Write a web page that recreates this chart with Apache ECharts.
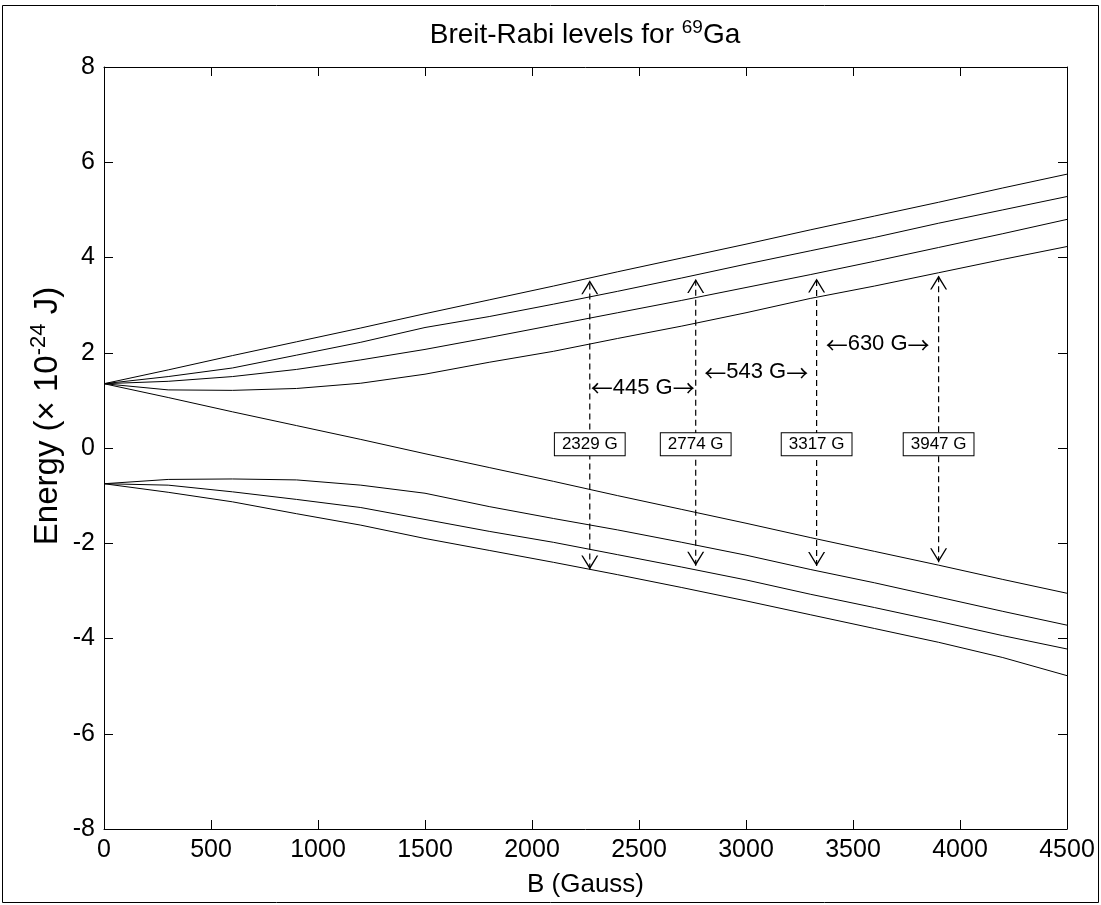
<!DOCTYPE html>
<html><head><meta charset="utf-8">
<script src="https://cdn.jsdelivr.net/npm/echarts@6.0.0/dist/echarts.min.js"></script>
<style>html,body{margin:0;padding:0;background:#fff}#c{width:1101px;height:905px}</style>
</head><body><div id="c"></div>
<script>
// Magnetic field samples (Gauss)
const fieldB = [0,300,600,900,1200,1500,1800,2100,2400,2700,3000,3300,3600,3900,4200,4500];
// Energy levels (x 1e-24 J), upper hyperfine group (F=2)
const levelUp1 = [1.35,1.64,1.94,2.23,2.52,2.82,3.11,3.40,3.70,3.99,4.28,4.58,4.87,5.16,5.46,5.75];
const levelUp2 = [1.35,1.50,1.68,1.95,2.22,2.53,2.76,3.02,3.29,3.57,3.86,4.14,4.42,4.72,5.00,5.28];
const levelUp3 = [1.35,1.40,1.50,1.65,1.85,2.07,2.32,2.58,2.84,3.10,3.37,3.64,3.92,4.21,4.50,4.80];
const levelUp4 = [1.35,1.22,1.21,1.25,1.36,1.55,1.80,2.03,2.30,2.56,2.84,3.14,3.40,3.68,3.96,4.23];
const levelUp5 = [1.35,1.06,0.76,0.47,0.18,-0.12,-0.41,-0.70,-1.00,-1.29,-1.58,-1.88,-2.17,-2.46,-2.76,-3.05];
// lower hyperfine group (F=1)
const levelLo1 = [-0.75,-0.66,-0.65,-0.67,-0.78,-0.95,-1.23,-1.48,-1.72,-1.98,-2.25,-2.55,-2.83,-3.13,-3.43,-3.72];
const levelLo2 = [-0.75,-0.78,-0.92,-1.08,-1.25,-1.50,-1.75,-1.98,-2.24,-2.50,-2.77,-3.07,-3.35,-3.64,-3.94,-4.22];
const levelLo3 = [-0.75,-0.93,-1.13,-1.38,-1.62,-1.90,-2.15,-2.40,-2.66,-2.93,-3.21,-3.50,-3.79,-4.08,-4.40,-4.78];
const allLevels = [levelUp1,levelUp2,levelUp3,levelUp4,levelUp5,levelLo1,levelLo2,levelLo3];

// Transition annotations
const arrowB = [2270, 2765, 3330, 3900];
const arrowTop = [3.52, 3.55, 3.56, 3.62];
const arrowBottom = [-2.55, -2.47, -2.48, -2.40];
const boxLabels = ['2329 G', '2774 G', '3317 G', '3947 G'];
const boxY = [0.08, 0.08, 0.08, 0.08];
const gapLabels = ['445 G', '543 G', '630 G'];
const gapY = [1.27, 1.59, 2.18];

const FONT = 'Liberation Sans, Arial, Helvetica, sans-serif';
const ARROWFONT = 'Noto Sans CJK SC, DejaVu Sans, sans-serif';
const upHead = 'path://M0,14 L8.5,0 L17,14 L15.5,14 L8.5,2.6 L1.5,14 Z';
const downHead = 'path://M0,0 L8.5,14 L17,0 L15.5,0 L8.5,11.4 L1.5,0 Z';
const HIDDEN = 'rgba(0,0,0,0)';

const series = [];
allLevels.forEach((lv, k) => {
  series.push({
    type: 'line', name: 'level' + k, data: fieldB.map((b, i) => [b, lv[i]]),
    symbol: 'none', silent: true, z: 3,
    lineStyle: { color: '#000', width: 1 }
  });
});
arrowB.forEach((b, i) => {
  series.push({
    type: 'line', data: [[b, arrowBottom[i]], [b, arrowTop[i]]],
    symbol: 'none', silent: true, z: 4,
    lineStyle: { color: '#000', width: 1.2, type: [6, 4] }
  });
});
series.push({
  type: 'scatter', data: arrowB.map((b, i) => [b, arrowTop[i]]),
  symbol: upHead, symbolSize: [17, 14], symbolOffset: [0, '50%'], silent: true, z: 5,
  itemStyle: { color: '#000', opacity: 1 }
});
series.push({
  type: 'scatter', data: arrowB.map((b, i) => [b, arrowBottom[i]]),
  symbol: downHead, symbolSize: [17, 14], symbolOffset: [0, '-50%'], silent: true, z: 5,
  itemStyle: { color: '#000', opacity: 1 }
});
series.push({
  type: 'scatter', data: arrowB.map((b, i) => [b, boxY[i]]),
  symbolSize: 2, itemStyle: { color: HIDDEN, opacity: 1 }, silent: true, z: 10,
  label: {
    show: true, position: 'inside', formatter: p => boxLabels[p.dataIndex],
    color: '#000', fontSize: 17, fontFamily: FONT,
    backgroundColor: '#fff', borderColor: '#000', borderWidth: 1, padding: [3, 7, 2, 7]
  }
});
series.push({
  type: 'scatter', data: gapLabels.map((t, i) => [(arrowB[i] + arrowB[i + 1]) / 2, gapY[i]]),
  symbolSize: 2, itemStyle: { color: HIDDEN, opacity: 1 }, silent: true, z: 10,
  label: {
    show: true, position: 'inside',
    formatter: p => '{a|\u2190}{t|' + gapLabels[p.dataIndex] + '}{a|\u2192}',
    color: '#000', fontSize: 22, fontFamily: FONT,
    rich: {
      a: { fontSize: 22, fontFamily: ARROWFONT, color: '#000' },
      t: { fontSize: 22, fontFamily: FONT, color: '#000' }
    }
  }
});

const axisCommonX = { type: 'value', min: 0, max: 4500, interval: 500 };
const axisCommonY = { type: 'value', min: -8, max: 8, interval: 2 };
const lineStyleBlack = { color: '#000', width: 1 };
const plainNum = v => String(v);

const option = {
  backgroundColor: '#fff',
  animation: false,
  grid: { left: 104, right: 34, top: 67, bottom: 76, containLabel: false },
  xAxis: [
    Object.assign({}, axisCommonX, {
      position: 'bottom',
      axisLine: { show: true, onZero: false, lineStyle: lineStyleBlack },
      axisTick: { show: true, inside: true, length: 9, lineStyle: lineStyleBlack },
      axisLabel: { color: '#000', fontSize: 25, fontFamily: FONT, margin: 9, formatter: plainNum },
      splitLine: { show: false },
      name: 'B (Gauss)', nameLocation: 'middle', nameGap: 43,
      nameTextStyle: { color: '#000', fontSize: 26, fontFamily: FONT }
    }),
    Object.assign({}, axisCommonX, {
      position: 'top',
      axisLine: { show: true, onZero: false, lineStyle: lineStyleBlack },
      axisTick: { show: true, inside: true, length: 9, lineStyle: lineStyleBlack },
      axisLabel: { show: false }, splitLine: { show: false }
    })
  ],
  yAxis: [
    Object.assign({}, axisCommonY, {
      position: 'left',
      axisLine: { show: true, onZero: false, lineStyle: lineStyleBlack },
      axisTick: { show: true, inside: true, length: 9, lineStyle: lineStyleBlack },
      axisLabel: { color: '#000', fontSize: 25, fontFamily: FONT, margin: 9, formatter: plainNum },
      splitLine: { show: false }
    }),
    Object.assign({}, axisCommonY, {
      position: 'right',
      axisLine: { show: true, onZero: false, lineStyle: lineStyleBlack },
      axisTick: { show: true, inside: true, length: 9, lineStyle: lineStyleBlack },
      axisLabel: { show: false }, splitLine: { show: false }
    })
  ],
  graphic: [
    {
      type: 'rect', silent: true, z: 0,
      shape: { x: 2.5, y: 5.5, width: 1096, height: 897 },
      style: { fill: 'none', stroke: '#000', lineWidth: 1 }
    },
    {
      type: 'text', silent: true, x: 585, y: 34,
      style: {
        text: '{n|Breit-Rabi levels for }{sup|69}{n|Ga}',
        textAlign: 'center', textVerticalAlign: 'middle', fill: '#000',
        fontSize: 28, fontFamily: FONT,
        rich: {
          n: { fontSize: 28, fontFamily: FONT, fill: '#000', verticalAlign: 'bottom' },
          sup: { fontSize: 19, fontFamily: FONT, fill: '#000', verticalAlign: 'bottom', padding: [0, 0, 12, 0] }
        }
      }
    },
    {
      type: 'text', silent: true, x: 46, y: 416, rotation: Math.PI / 2,
      style: {
        text: '{n|Energy (\u00d7 10}{sup|-24}{n| J)}',
        textAlign: 'center', textVerticalAlign: 'middle', fill: '#000',
        fontSize: 33, fontFamily: FONT,
        rich: {
          n: { fontSize: 33, fontFamily: FONT, fill: '#000', verticalAlign: 'bottom' },
          sup: { fontSize: 22, fontFamily: FONT, fill: '#000', verticalAlign: 'bottom', padding: [0, 0, 14, 0] }
        }
      }
    }
  ],
  series: series
};
const chart = echarts.init(document.getElementById('c'), null, { renderer: 'canvas' });
chart.setOption(option);
</script></body></html>
